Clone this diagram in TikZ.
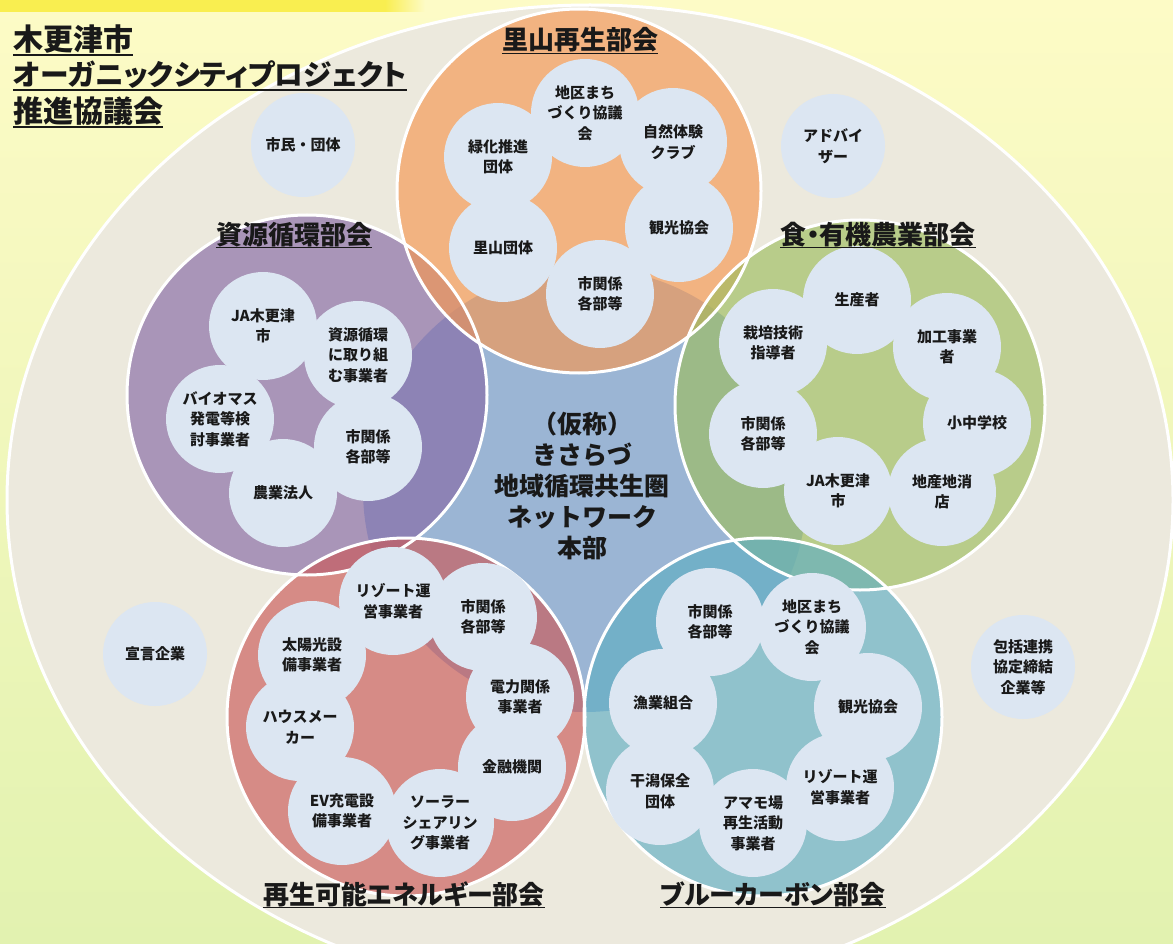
\documentclass[tikz,border=0pt]{standalone}
\usepackage{fontspec}
\setmainfont{Noto Sans CJK JP}
\newfontfamily\jpp{Noto Sans CJK JP}[RawFeature=+palt]
\definecolor{bgtop}{RGB}{253,251,198}
\definecolor{bgbot}{RGB}{226,242,176}
\definecolor{barY}{RGB}{249,238,80}
\definecolor{beige}{RGB}{236,233,221}
\definecolor{cblue}{RGB}{155,181,212}
\definecolor{bubc}{RGB}{220,230,242}
\definecolor{orC}{RGB}{246,151,80}
\definecolor{puC}{RGB}{134,105,165}
\definecolor{grC}{RGB}{157,189,95}
\definecolor{reC}{RGB}{203,89,88}
\definecolor{teC}{RGB}{95,174,195}
\definecolor{txt}{RGB}{25,25,25}
\begin{document}
\begin{tikzpicture}[x=1pt,y=-1pt,
  bub/.style={circle,fill=bubc,minimum size=108pt,inner sep=0pt},
  obub/.style={circle,fill=bubc,minimum size=104pt,inner sep=0pt},
  btxt/.style={align=center,font=\fontsize{15}{20.5}\selectfont\bfseries,text=txt,inner sep=0pt},
  ctxt/.style={align=center,font=\fontsize{25}{31}\selectfont\bfseries,text=txt,inner sep=0pt},
  ttl/.style={anchor=base,inner sep=0pt,font=\jpp\fontsize{26}{30}\selectfont\bfseries,text=txt},
  hdr/.style={anchor=base west,inner sep=0pt,font=\jpp\fontsize{30}{34}\selectfont\bfseries,text=txt},
  ul/.style={draw=txt,line width=1.6pt},
  dept/.style={fill opacity=0.65},
  rim/.style={draw=white,line width=3pt}]
\useasboundingbox (0,0) rectangle (1173,944);
% background
\shade[top color=bgtop,bottom color=bgbot] (0,0) rectangle (1173,944);
\fill[fill=barY] (0,0) rectangle (385,12);
\shade[left color=barY,right color=bgtop] (385,0) rectangle (425,12);
% big ellipse
\draw[fill=beige,draw=white,line width=3pt] (590,500) ellipse [x radius=583pt,y radius=495pt];
% central circle
\fill[cblue] (585,490) circle [radius=222pt];
% department circles
\fill[dept,puC] (307,395) circle [radius=180pt];
\fill[dept,orC] (579,191) circle [radius=182pt];
\fill[dept,grC] (860,405) circle [radius=185pt];
\fill[dept,reC] (406,717) circle [radius=179pt];
\fill[dept,teC] (763,717) circle [radius=179pt];
\draw[rim] (307,395) circle [radius=180pt];
\draw[rim] (579,191) circle [radius=182pt];
\draw[rim] (860,405) circle [radius=185pt];
\draw[rim] (406,717) circle [radius=179pt];
\draw[rim] (763,717) circle [radius=179pt];
% outer bubbles
\node[obub] (o1) at (303,145) {};
\node[obub] (o2) at (833,146) {};
\node[obub] (o3) at (155,654) {};
\node[obub] (o4) at (1023,667) {};
% satoyama bubbles
\node[bub] (s1) at (585,113) {};
\node[bub] (s2) at (673,142) {};
\node[bub] (s3) at (679,228) {};
\node[bub] (s4) at (600,294) {};
\node[bub] (s5) at (503,248) {};
\node[bub] (s6) at (498,157) {};
% shigen bubbles
\node[bub] (p1) at (263,326) {};
\node[bub] (p2) at (358,355) {};
\node[bub] (p3) at (220,419) {};
\node[bub] (p4) at (368,447) {};
\node[bub] (p5) at (283,493) {};
% shoku bubbles
\node[bub] (g1) at (857,300) {};
\node[bub] (g2) at (947,347) {};
\node[bub] (g3) at (977,423) {};
\node[bub] (g4) at (942,492) {};
\node[bub] (g5) at (838,491) {};
\node[bub] (g6) at (763,434) {};
\node[bub] (g7) at (773,343) {};
% energy bubbles
\node[bub] (r1) at (393,601) {};
\node[bub] (r2) at (483,617) {};
\node[bub] (r3) at (520,697) {};
\node[bub] (r4) at (512,767) {};
\node[bub] (r5) at (440,823) {};
\node[bub] (r6) at (342,811) {};
\node[bub] (r7) at (300,727) {};
\node[bub] (r8) at (312,655) {};
% blue carbon bubbles
\node[bub] (b1) at (710,622) {};
\node[bub] (b2) at (812,627) {};
\node[bub] (b3) at (868,707) {};
\node[bub] (b4) at (840,787) {};
\node[bub] (b5) at (753,823) {};
\node[bub] (b6) at (660,791) {};
\node[bub] (b7) at (663,703) {};
% texts
\node[btxt] (o1t) at (o1) {市民・団体};
\node[btxt] (o2t) at (o2) {アドバイ\\ザー};
\node[btxt] (o3t) at (o3) {宣言企業};
\node[btxt] (o4t) at (o4) {包括連携\\協定締結\\企業等};
\node[btxt] (s1t) at (s1) {地区まち\\づくり協議\\会};
\node[btxt] (s2t) at (s2) {自然体験\\クラブ};
\node[btxt] (s3t) at (s3) {観光協会};
\node[btxt] (s4t) at (s4) {市関係\\各部等};
\node[btxt] (s5t) at (s5) {里山団体};
\node[btxt] (s6t) at (s6) {緑化推進\\団体};
\node[btxt] (p1t) at (p1) {JA木更津\\市};
\node[btxt] (p2t) at (p2) {資源循環\\に取り組\\む事業者};
\node[btxt] (p3t) at (p3) {バイオマス\\発電等検\\討事業者};
\node[btxt] (p4t) at (p4) {市関係\\各部等};
\node[btxt] (p5t) at (p5) {農業法人};
\node[btxt] (g1t) at (g1) {生産者};
\node[btxt] (g2t) at (g2) {加工事業\\者};
\node[btxt] (g3t) at (g3) {小中学校};
\node[btxt] (g4t) at (g4) {地産地消\\店};
\node[btxt] (g5t) at (g5) {JA木更津\\市};
\node[btxt] (g6t) at (g6) {市関係\\各部等};
\node[btxt] (g7t) at (g7) {栽培技術\\指導者};
\node[btxt] (r1t) at (r1) {リゾート運\\営事業者};
\node[btxt] (r2t) at (r2) {市関係\\各部等};
\node[btxt] (r3t) at (r3) {電力関係\\事業者};
\node[btxt] (r4t) at (r4) {金融機関};
\node[btxt] (r5t) at (r5) {ソーラー\\シェアリン\\グ事業者};
\node[btxt] (r6t) at (r6) {EV充電設\\備事業者};
\node[btxt] (r7t) at (r7) {ハウスメー\\カー};
\node[btxt] (r8t) at (r8) {太陽光設\\備事業者};
\node[btxt] (b1t) at (b1) {市関係\\各部等};
\node[btxt] (b2t) at (b2) {地区まち\\づくり協議\\会};
\node[btxt] (b3t) at (b3) {観光協会};
\node[btxt] (b4t) at (b4) {リゾート運\\営事業者};
\node[btxt] (b5t) at (b5) {アマモ場\\再生活動\\事業者};
\node[btxt] (b6t) at (b6) {干潟保全\\団体};
\node[btxt] (b7t) at (b7) {漁業組合};
% centre
\node[ctxt] (hq) at (582,486) {（仮称）\\きさらづ\\地域循環共生圏\\ネットワーク\\本部};
% department titles
\node[ttl] (t1) at (580,50) {里山再生部会};
\node[ttl] (t2) at (294,244) {資源循環部会};
\node[ttl] (t3) at (878,244) {食・有機農業部会};
\node[ttl] (t4) at (404,904) {再生可能エネルギー部会};
\node[ttl] (t5) at (773,904) {ブルーカーボン部会};
\foreach \n in {t1,t2,t3,t4,t5}
  \draw[ul] ([yshift=-3.5pt]\n.base west) -- ([yshift=-3.5pt]\n.base east);
% header
\node[hdr] (h1) at (13,51) {木更津市};
\node[hdr,font=\jpp\fontsize{28.7}{34}\selectfont\bfseries] (h2) at (13,86) {オーガニックシティプロジェクト};
\node[hdr] (h3) at (13,123) {推進協議会};
\foreach \n in {h1,h2,h3}
  \draw[ul] ([yshift=-4pt]\n.base west) -- ([yshift=-4pt]\n.base east);
\end{tikzpicture}
\end{document}
